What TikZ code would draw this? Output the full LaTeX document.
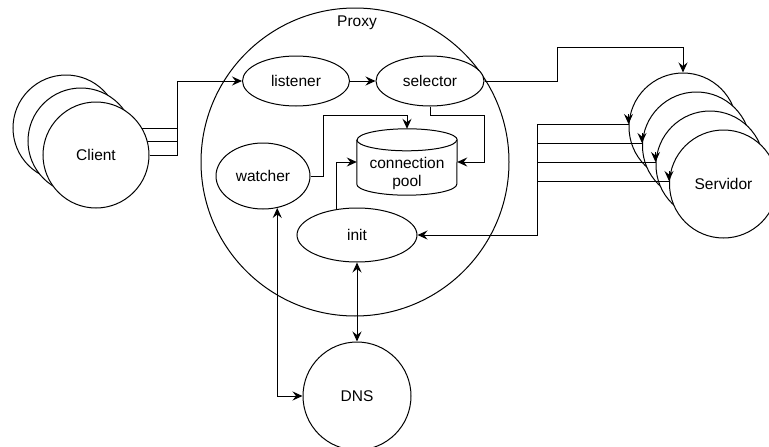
\documentclass[tikz,border=0pt]{standalone}
\usepackage{fontspec}
\setmainfont{Liberation Sans}
\usetikzlibrary{arrows.meta,shapes.geometric,calc}
\pgfdeclarelayer{background}
\pgfsetlayers{background,main}

\tikzset{
  lbl/.style={font=\fontsize{15.5}{18}\selectfont},
  oval/.style={ellipse, draw, fill=white, line width=1pt, inner sep=0pt, lbl},
  disc/.style={circle, draw, fill=white, line width=1pt, inner sep=0pt, minimum size=#1, lbl},
  wire/.style={line width=1pt},
  tip/.style={Stealth[length=10pt,width=9pt,inset=3.5pt]},
  arr/.style={wire, -{Stealth[length=10pt,width=9pt,inset=3.5pt]}},
  biarr/.style={wire, {Stealth[length=10pt,width=9pt,inset=3.5pt]}-{Stealth[length=10pt,width=9pt,inset=3.5pt]}},
}

\begin{document}
\begin{tikzpicture}[x=1pt,y=-1pt]
\useasboundingbox (0,0) rectangle (769,447);
\clip (0,0) rectangle (769,447);

% proxy boundary
\node[circle, draw, line width=1pt, minimum size=308pt, inner sep=0pt] (proxy) at (355,162) {};
\node[lbl] (proxylabel) at (357,23) {Proxy};

% clients (stacked)
\node[disc=106pt] (c1) at (66,128) {};
\node[disc=106pt] (c2) at (81,141) {};
\node[disc=106pt] (c3) at (96,155) {Client};

% proxy internals
\node[oval, minimum width=107pt, minimum height=50pt] (listener) at (296,81) {listener};
\node[oval, minimum width=108pt, minimum height=50pt] (selector) at (430,81) {selector};
\node[oval, minimum width=94pt, minimum height=66pt] (watcher) at (263,176) {watcher};
\node[oval, minimum width=120pt, minimum height=54pt] (init) at (357,235) {init};

% connection pool cylinder
\node[minimum width=100pt, minimum height=66pt, inner sep=0pt] (pool) at (407,162) {};
\draw[wire, fill=white] ($(pool.north west)+(0,11)$)
  -- ($(pool.south west)+(0,-11)$)
  arc[start angle=180, end angle=360, x radius=50pt, y radius=11pt]
  -- ($(pool.north east)+(0,11)$)
  arc[start angle=0, end angle=180, x radius=50pt, y radius=11pt];
\draw[wire] ($(pool.north west)+(0,11)$)
  arc[start angle=180, end angle=360, x radius=50pt, y radius=11pt];
\node[lbl, align=center] (pooltext) at (407,173) {connection\\pool};

% DNS
\node[disc=108pt] (dns) at (357,396) {DNS};

% servers (stacked)
\node[disc=108pt] (s1) at (683,127) {};
\node[disc=108pt] (s2) at (696.5,146) {};
\node[disc=108pt] (s3) at (710,165) {};
\node[disc=108pt] (s4) at (723.5,184) {Servidor};

% clients -> listener
\coordinate (cjoin) at (177,81);
\begin{pgfonlayer}{background}
  \draw[wire] (c1.east) -| (cjoin);
  \draw[wire] (c2.east) -| (cjoin);
  \draw[wire] (c3.east) -| (cjoin);
\end{pgfonlayer}
\draw[arr] (cjoin) -- (listener.west);

\draw[arr] (listener.east) -- (selector.west);

% selector -> first server
\draw[arr] (selector.east) -- (557,81) |- (683,47) -- (s1.north);

% into the connection pool
\draw[arr] (selector.south) -- ++(0,9) -| (484,162) -- (pool.east);
\draw[arr] (watcher.east) -- (323,176) |- (407,115) -- (pool.north);
\draw[arr] (init.128) |- (pool.west);

% DNS links
\draw[biarr] (watcher.-66) |- (dns.west);
\draw[biarr] (init.south) -- (dns.north);

% servers -> init
\coordinate (trunk) at (537,124);
\draw[arr] (trunk) |- (init.east);
\foreach \s in {s1,s2,s3,s4}{
  \coordinate (tip-\s) at ($(\s.west)+(0,-3)$);
  \draw[wire] (trunk |- tip-\s) -- (tip-\s);
  \draw[arr] ($(tip-\s)+(0,-10)$) -- (tip-\s);
}
\end{tikzpicture}
\end{document}
